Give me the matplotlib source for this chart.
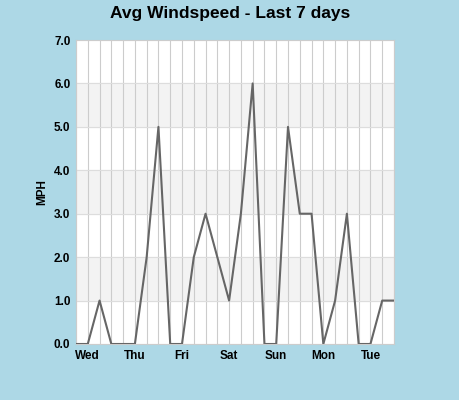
import matplotlib
matplotlib.use("Agg")
import matplotlib.pyplot as plt

values = [0,0,1,0,0,0,2,5,0,0,2,3,2,1,3,6,0,0,5,3,3,0,1,3,0,0,1,1]
day_labels = ["Wed","Thu","Fri","Sat","Sun","Mon","Tue"]
day_idx = [1,5,9,13,17,21,25]
yticks = [0,1,2,3,4,5,6,7]

fig = plt.figure(figsize=(4.6,4.0), dpi=100, facecolor="#add8e6")
ax = fig.add_axes([76/460, 56/400, 318/460, 304/400])
ax.set_facecolor("white")
x = list(range(len(values)))
for lo in [1,3,5]:
    ax.axhspan(lo, lo+1, color="#f3f3f3", zorder=0)
for xi in x:
    ax.axvline(xi, color="#cccccc", lw=0.8, zorder=1)
for yv in yticks:
    ax.axhline(yv, color="#dddddd", lw=0.8, zorder=1)
ax.plot(x, values, color="#666666", lw=1.5, zorder=3)
ax.set_xlim(0, len(values)-1)
ax.set_ylim(0, 7)
ax.set_yticks(yticks)
ax.set_yticklabels([f"{v:.1f}" for v in yticks], fontweight="bold", fontsize=8.5, family="Liberation Sans")
ax.set_xticks(day_idx)
ax.set_xticklabels(day_labels, fontweight="bold", fontsize=8.5, family="Liberation Sans")
ax.tick_params(length=0, pad=4)
ax.set_ylabel("MPH", fontweight="bold", fontsize=8.5, family="Liberation Sans")
for s in ax.spines.values():
    s.set_color("#cccccc")
fig.suptitle("Avg Windspeed - Last 7 days", fontweight="bold", fontsize=12.5, family="Liberation Sans", y=0.985)
fig.savefig("out.png", dpi=100, facecolor=fig.get_facecolor())
